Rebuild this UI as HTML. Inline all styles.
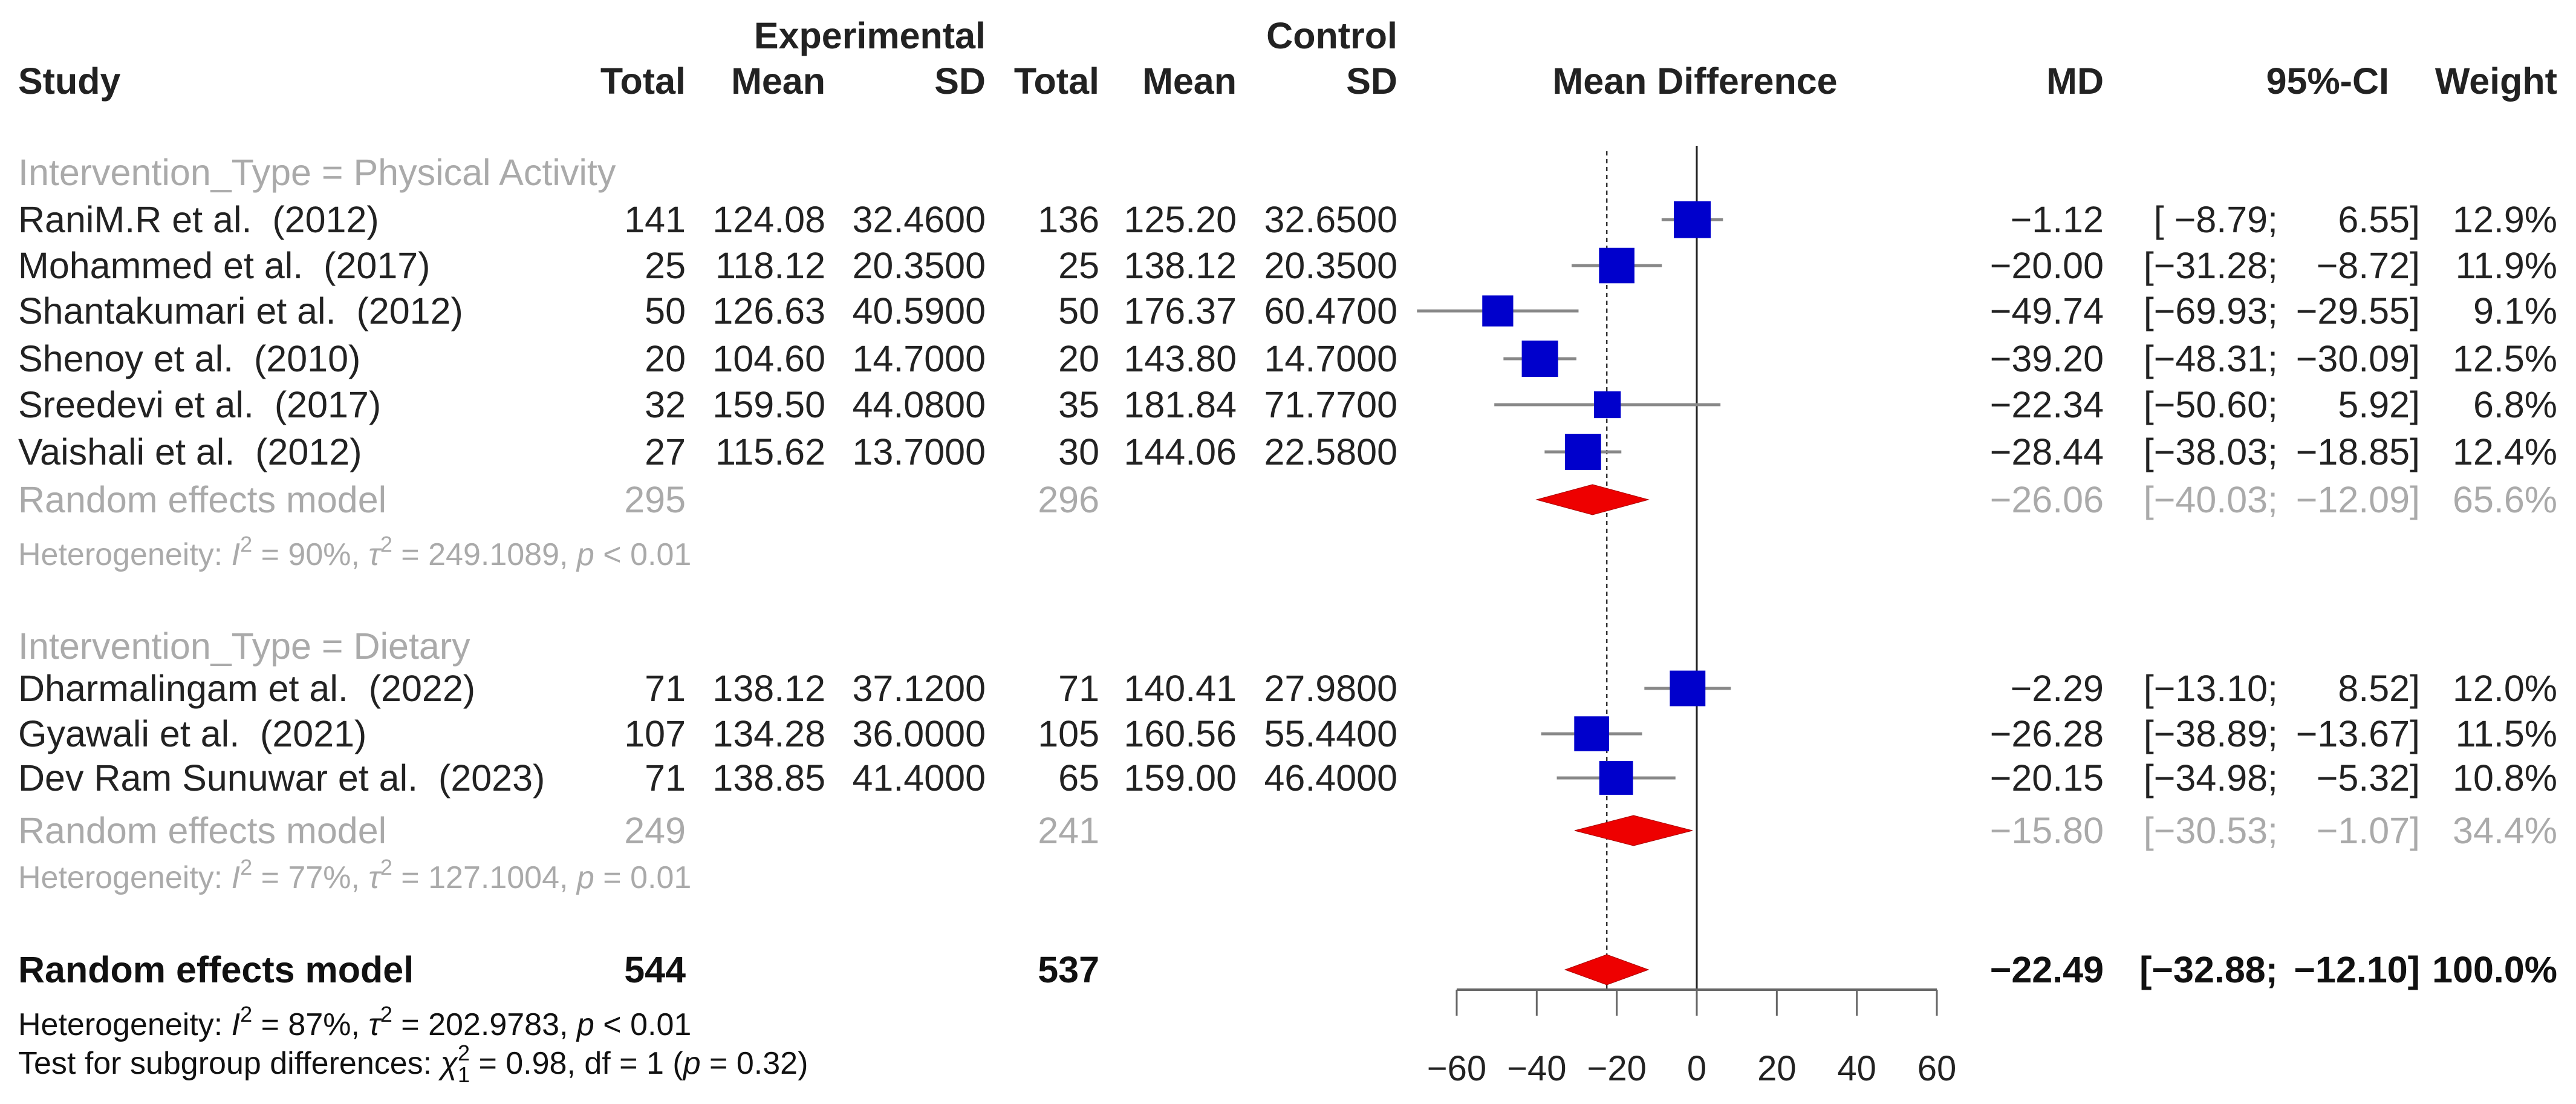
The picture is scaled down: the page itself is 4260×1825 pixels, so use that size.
<!DOCTYPE html>
<html><head><meta charset="utf-8"><style>
html,body{margin:0;padding:0;background:#fff;}
svg{display:block;font-family:"Liberation Sans",Arial,sans-serif;white-space:pre;}
</style></head><body>
<svg id="plot" width="4260" height="1825" viewBox="0 0 4260 1825" xmlns="http://www.w3.org/2000/svg" xml:space="preserve"></svg>
<script>
const studies = ["RaniM.R et al.  (2012)","Mohammed et al.  (2017)","Shantakumari et al.  (2012)","Shenoy et al.  (2010)","Sreedevi et al.  (2017)","Vaishali et al.  (2012)","Dharmalingam et al.  (2022)","Gyawali et al.  (2021)","Dev Ram Sunuwar et al.  (2023)"];
const expTotal = [141,25,50,20,32,27,71,107,71];
const expMean = ["124.08","118.12","126.63","104.60","159.50","115.62","138.12","134.28","138.85"];
const expSD = ["32.4600","20.3500","40.5900","14.7000","44.0800","13.7000","37.1200","36.0000","41.4000"];
const ctrlTotal = [136,25,50,20,35,30,71,105,65];
const ctrlMean = ["125.20","138.12","176.37","143.80","181.84","144.06","140.41","160.56","159.00"];
const ctrlSD = ["32.6500","20.3500","60.4700","14.7000","71.7700","22.5800","27.9800","55.4400","46.4000"];
const md = [-1.12,-20.00,-49.74,-39.20,-22.34,-28.44,-2.29,-26.28,-20.15];
const lower = [-8.79,-31.28,-69.93,-48.31,-50.60,-38.03,-13.10,-38.89,-34.98];
const upper = [6.55,-8.72,-29.55,-30.09,5.92,-18.85,8.52,-13.67,-5.32];
const weight = [12.9,11.9,9.1,12.5,6.8,12.4,12.0,11.5,10.8];
const studyY = [363,439,514,593,669,747,1138,1213,1286];
const poolMD = [-26.06,-15.80,-22.49];
const poolLo = [-40.03,-30.53,-32.88];
const poolHi = [-12.09,-1.07,-12.10];
const poolW = ["65.6%","34.4%","100.0%"];
const poolExpN = [295,249,544];
const poolCtrlN = [296,241,537];
const poolY = [826,1373,1603];
const ticks = [-60,-40,-20,0,20,40,60];

const svg = document.getElementById('plot');
const NS = "http://www.w3.org/2000/svg";
const X0 = 2806, PX = 6.617;
function xs(v){return X0 + v*PX;}
function mk(tag, attrs, parent){const e=document.createElementNS(NS,tag);for(const k in attrs)e.setAttribute(k,attrs[k]);(parent||svg).appendChild(e);return e;}
function txt(s, x, y, opts){opts=opts||{};const t=mk('text',{x:x,y:y,'font-size':opts.size||61,'text-anchor':opts.anchor||'start',fill:opts.fill||'#222','font-weight':opts.bold?'bold':'normal'});t.textContent=s.replace(/  /g,'\u00a0\u00a0');return t;}
function fmt(v){return (v<0?'\u2212':'')+Math.abs(v).toFixed(2);}
const GRAY='#aaaaaa';
const BL=21;

let h;
h=txt('Experimental',1630,80,{bold:true,anchor:'end'});
h=txt('Control',2311,80,{bold:true,anchor:'end'});
const hdr=[['Study',30,'start'],['Total',1134,'end'],['Mean',1365,'end'],['SD',1630,'end'],['Total',1818,'end'],['Mean',2045,'end'],['SD',2311,'end'],['Mean Difference',2803,'middle'],['MD',3479,'end'],['95%-CI',3951,'end'],['Weight',4229,'end']];
hdr.forEach(a=>{const t=txt(a[0],a[1],155,{bold:true,anchor:a[2]});

});

h=txt('Intervention_Type = Physical Activity',30,285+BL,{fill:GRAY});
h=txt('Intervention_Type = Dietary',30,1068+BL,{fill:GRAY});

const zl=mk('line',{x1:xs(0),x2:xs(0),y1:241,y2:1636,stroke:'#222','stroke-width':3});


const dl=mk('line',{x1:xs(poolMD[2]),x2:xs(poolMD[2]),y1:250,y2:1636,stroke:'#333','stroke-width':2.5,'stroke-dasharray':'7,6'});



studies.forEach((s,i)=>{
  const y=studyY[i], b=y+BL;
  const g=mk('g',{});
  
  
  [[s,30,'start'],[String(expTotal[i]),1134,'end'],[expMean[i],1365,'end'],[expSD[i],1630,'end'],[String(ctrlTotal[i]),1818,'end'],[ctrlMean[i],2045,'end'],[ctrlSD[i],2311,'end'],[fmt(md[i]),3479,'end'],['['+(lower[i]>-10?' ':'')+fmt(lower[i])+';',3767,'end'],[fmt(upper[i])+']',4002,'end'],[weight[i].toFixed(1)+'%',4229,'end']].forEach(a=>{const t=txt(a[0],a[1],b,{anchor:a[2]});g.appendChild(t);});
  const ci=mk('line',{x1:xs(lower[i]),x2:xs(upper[i]),y1:y,y2:y,stroke:'#888','stroke-width':5});
  
  
  const side=61*Math.sqrt(weight[i]/12.9);
  const sq=mk('rect',{x:xs(md[i])-side/2,y:y-side/2,width:side,height:side,fill:'#0000cc'});
  
  
});

poolMD.forEach((m,i)=>{
  const y=poolY[i], b=y+BL, overall=(i===2);
  const col=overall?'#111':GRAY;
  const g=mk('g',{});
  
  
  [['Random effects model',30,'start'],[String(poolExpN[i]),1134,'end'],[String(poolCtrlN[i]),1818,'end'],[fmt(m),3479,'end'],['['+fmt(poolLo[i])+';',3767,'end'],[fmt(poolHi[i])+']',4002,'end'],[poolW[i],4229,'end']].forEach(a=>{g.appendChild(txt(a[0],a[1],b,{anchor:a[2],fill:col,bold:overall}));});
  const hh=25;
  const d=mk('polygon',{points:`${xs(poolLo[i])},${y} ${xs(m)},${y-hh} ${xs(poolHi[i])},${y} ${xs(m)},${y+hh}`,fill:'#ee0000',stroke:'#aa0000','stroke-width':1});
  
  
});

function het(y,I2,tau,pv,col,name){
  const t=mk('text',{x:30,y:y,'font-size':52,fill:col});
  
  
  t.innerHTML=`Heterogeneity: <tspan font-style="italic">I</tspan><tspan dy="-22" font-size="36">2</tspan><tspan dy="22"> = ${I2}, </tspan><tspan font-style="italic">τ</tspan><tspan dy="-22" font-size="36">2</tspan><tspan dy="22"> = ${tau}, </tspan><tspan font-style="italic">p</tspan> ${pv}`;
}
het(916+18,'90%','249.1089','&lt; 0.01',GRAY,'heterogeneity-physical');
het(1450+18,'77%','127.1004','= 0.01',GRAY,'heterogeneity-dietary');
het(1693+18,'87%','202.9783','&lt; 0.01','#111','heterogeneity-overall');
const tt=mk('text',{x:30,y:1757+18,'font-size':52,fill:'#111'});


tt.innerHTML='Test for subgroup differences: <tspan font-style="italic">χ</tspan><tspan dy="-22" font-size="36">2</tspan><tspan dx="-20" dy="36" font-size="36">1</tspan><tspan dy="-14"> = 0.98, df = 1 (</tspan><tspan font-style="italic">p</tspan> = 0.32)';

const ax=mk('line',{x1:xs(ticks[0]),x2:xs(ticks[ticks.length-1]),y1:1636,y2:1636,stroke:'#666','stroke-width':4});


ticks.forEach(v=>{
  const tk=mk('line',{x1:xs(v),x2:xs(v),y1:1636,y2:1679,stroke:'#666','stroke-width':3});
  
  
  const lb=txt((v<0?'\u2212':'')+Math.abs(v),xs(v),1786,{anchor:'middle',size:58});
  
  
});
</script>
</body></html>
